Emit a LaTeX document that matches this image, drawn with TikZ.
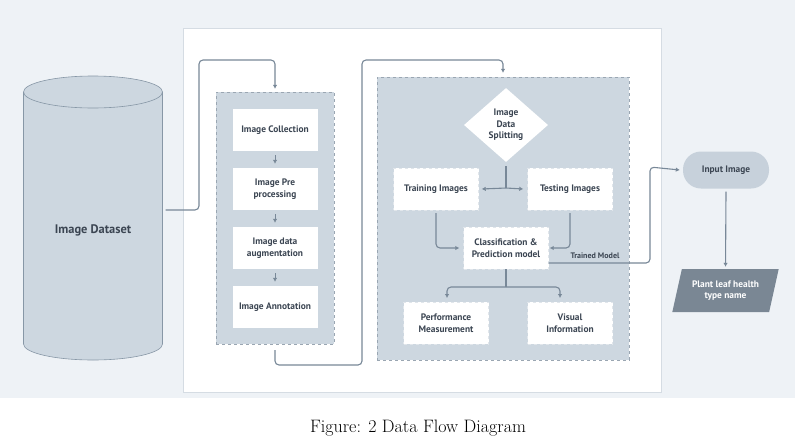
\documentclass[tikz,border=0pt]{standalone}
\usepackage{fontspec}
\setsansfont{PT Sans}
\usetikzlibrary{positioning, shapes.geometric, arrows.meta}
\definecolor{bgcol}{HTML}{EEF2F6}
\definecolor{panelline}{HTML}{D5DCE3}
\definecolor{cylfill}{HTML}{CDD7E0}
\definecolor{cylline}{HTML}{8797A6}
\definecolor{grpline}{HTML}{9AA6B2}
\definecolor{flowline}{HTML}{788898}
\definecolor{txtcol}{HTML}{3B4552}
\definecolor{inputfill}{HTML}{C7D1DB}
\definecolor{parafill}{HTML}{7A8794}
\definecolor{boxline}{HTML}{E1E6EB}

\begin{document}
\begin{tikzpicture}[x=1pt, y=-1pt,
    lbl/.style={font=\sffamily\bfseries\fontsize{9.4}{11.5}\selectfont, text=txtcol, align=center},
    stepbox/.style={lbl, fill=white, minimum width=85pt, minimum height=42pt, inner sep=0pt},
    dbox/.style={stepbox, draw=boxline, dashed},
    grp/.style={fill=cylfill, draw=grpline, dashed, inner sep=0pt},
    flow/.style={draw=flowline, line width=1.1pt, rounded corners=4pt},
    arr/.style={flow, -{Latex[length=4pt,width=4.5pt]}}]
    \useasboundingbox (0,0) rectangle (799,442);
    \fill[bgcol] (0,0) rectangle (795,398);
    \filldraw[fill=white, draw=panelline] (183,28) rectangle (661,392);

    % image dataset (drum)
    \filldraw[fill=cylfill, draw=cylline, line width=0.6pt] (23.5,92) -- (23.5,344)
        arc[start angle=180, end angle=360, x radius=69.5pt, y radius=16pt] -- (162.5,92)
        arc[start angle=0, end angle=180, x radius=69.5pt, y radius=16pt] -- cycle;
    \draw[cylline, line width=0.6pt] (23.5,92) arc[start angle=180, end angle=360, x radius=69.5pt, y radius=16pt];
    \node[minimum width=139pt, minimum height=284pt, inner sep=0pt] (ds) at (93,218) {};
    \node[lbl, font=\sffamily\bfseries\fontsize{12.4}{14}\selectfont] (dslbl) at (93,230) {Image Dataset};

    % first group
    \node[grp, minimum width=118pt, minimum height=252pt] (grp1) at (275,218) {};
    \node[stepbox] (coll) at (275,130) {Image Collection};
    \node[stepbox] (pre)  at (275,189) {Image Pre\\processing};
    \node[stepbox] (aug)  at (275,248) {Image data\\augmentation};
    \node[stepbox] (ann)  at (275,307) {Image Annotation};
    \foreach \a/\b in {coll/pre, pre/aug, aug/ann}
        \draw[arr, line width=0.9pt, shorten <=4pt, shorten >=4pt] (\a) -- (\b);

    % second group
    \node[grp, minimum width=252pt, minimum height=283pt] (grp2) at (503,218.5) {};
    \node[diamond, lbl, fill=white, aspect=1.13, minimum width=84pt, minimum height=74pt,
          inner sep=0pt] (split) at (506,125) {Image\\Data\\Splitting};
    \node[dbox] (train) at (436,189) {Training Images};
    \node[dbox] (test)  at (570,189) {Testing Images};
    \node[dbox] (model) at (506,248) {Classification \&\\Prediction model};
    \node[dbox] (perf)  at (446,323) {Performance\\Measurement};
    \node[dbox] (vis)   at (570,323) {Visual\\Information};

    % input and output
    \node[lbl, fill=inputfill, rounded corners=18pt, minimum width=86pt, minimum height=37pt] (inp) at (726,170) {Input Image};
    \node[trapezium, trapezium left angle=70, trapezium right angle=110, trapezium stretches=true,
          lbl, text=white, fill=parafill, minimum width=107pt, minimum height=43pt, inner sep=0pt] (out) at (725.5,290.5) {Plant leaf health\\type name};
    \coordinate (tm) at (650,263);

    % connectors
    \draw[arr] ([yshift=8pt, xshift=3pt]ds.east) -- (199,210) -- (199,60) -- (275,60) -- ([yshift=3pt]grp1.north);
    \draw[arr] ([yshift=-6pt]grp1.south) -- (275,365) -- (362,365) -- (362,60) -- (503,60) -- ([yshift=4pt]grp2.north);
    \draw[flow] ([yshift=-4pt]split.south) -- (506,188);
    \draw[arr] (506,188) -- ([xshift=3pt]train.east);
    \draw[arr] (506,188) -- ([xshift=-4pt]test.west);
    \draw[arr] ([yshift=-3pt]train.south) -- (436,248) -- ([xshift=-4pt]model.west);
    \draw[arr] ([yshift=-3pt]test.south) -- (570,248) -- ([xshift=1pt]model.east);
    \draw[flow] (model.south) -- (506,287);
    \draw[arr] (506,287) -- (447,287) -- ([yshift=4pt]447,302);
    \draw[arr] (506,287) -- (560,287) -- ([yshift=4pt]560,302);
    \draw[arr] ([yshift=-15pt]model.east) -- (tm) -- (650,167) -- ([xshift=-3pt]inp.west);
    \node[font=\sffamily\bfseries\fontsize{8}{9}\selectfont, text=txtcol, anchor=south] (tmlbl) at (595,262) {Trained Model};
    \draw[arr] ([yshift=-3pt]inp.south) -- ([yshift=2pt]out.north);

    % caption
    \node[font=\fontsize{18}{20}\selectfont] (cap) at (418,428) {Figure: 2 Data Flow Diagram};
\end{tikzpicture}
\end{document}
